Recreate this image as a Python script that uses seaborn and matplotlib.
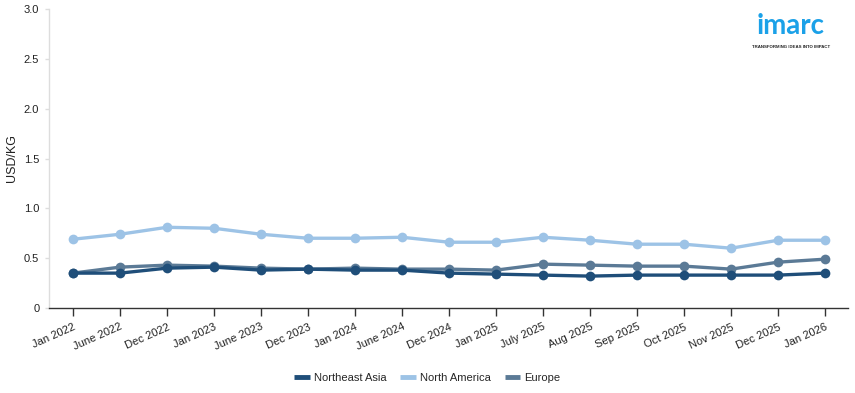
import matplotlib
matplotlib.use("Agg")
import matplotlib.pyplot as plt
import seaborn as sns
import pandas as pd
from matplotlib.lines import Line2D

dates = ["Jan 2022", "June 2022", "Dec 2022", "Jan 2023", "June 2023", "Dec 2023",
         "Jan 2024", "June 2024", "Dec 2024", "Jan 2025", "July 2025", "Aug 2025",
         "Sep 2025", "Oct 2025", "Nov 2025", "Dec 2025", "Jan 2026"]
northeast_asia = [0.35, 0.35, 0.40, 0.41, 0.38, 0.39, 0.38, 0.38, 0.35, 0.34,
                  0.33, 0.32, 0.33, 0.33, 0.33, 0.33, 0.35]
north_america = [0.69, 0.74, 0.81, 0.80, 0.74, 0.70, 0.70, 0.71, 0.66, 0.66,
                 0.71, 0.68, 0.64, 0.64, 0.60, 0.68, 0.68]
europe = [0.35, 0.41, 0.43, 0.42, 0.40, 0.39, 0.40, 0.39, 0.39, 0.38,
          0.44, 0.43, 0.42, 0.42, 0.39, 0.46, 0.49]
series_names = ["Northeast Asia", "North America", "Europe"]
colors = {"Northeast Asia": "#1f4e79", "North America": "#9dc3e6", "Europe": "#5b7a96"}

rows = []
for name, vals in zip(series_names, [northeast_asia, north_america, europe]):
    for i, (d, v) in enumerate(zip(dates, vals)):
        rows.append({"idx": i, "date": d, "value": v, "series": name})
df = pd.DataFrame(rows)

sns.set_theme(style="white")
plt.rcParams['font.family'] = ['Liberation Sans', 'DejaVu Sans']

fig = plt.figure(figsize=(8.55, 3.93), dpi=100)
ax = fig.add_axes([0.0573, 0.2163, 0.9347, 0.7607])

for name in ["North America", "Europe", "Northeast Asia"]:
    sub = df[df["series"] == name]
    sns.lineplot(data=sub, x="idx", y="value", ax=ax, color=colors[name],
                 linewidth=2.4, marker="o", markersize=7, markeredgewidth=0,
                 label=name, legend=False)

ax.set_xlim(-0.51, 16.49)
ax.set_ylim(0, 3.0)
ax.set_yticks([0, 0.5, 1.0, 1.5, 2.0, 2.5, 3.0])
ax.set_yticklabels(["0", "0.5", "1.0", "1.5", "2.0", "2.5", "3.0"], fontsize=8, color="#222222")
ax.set_xticks(range(len(dates)))
ax.set_xticklabels(dates, rotation=24, ha="right", rotation_mode="anchor", fontsize=8, color="#222222")
ax.set_xlabel("")
ax.set_ylabel("USD/KG", fontsize=9, color="#222222")
ax.tick_params(axis="x", length=6, width=1, color="#333333", bottom=True, pad=4)
ax.tick_params(axis="y", length=3, width=1, color="#dddddd", left=True, pad=4)
for s in ["top", "right"]:
    ax.spines[s].set_visible(False)
ax.spines["left"].set_color("#dddddd")
ax.spines["left"].set_linewidth(1)
ax.spines["bottom"].set_color("#333333")
ax.spines["bottom"].set_linewidth(1)
ax.grid(False)

handles = [Line2D([0], [0], color=colors[n], linewidth=3.5, solid_capstyle="butt") for n in series_names]
fig.legend(handles, series_names, loc="center", bbox_to_anchor=(0.5, 0.038), ncol=3,
           frameon=False, fontsize=8, handlelength=1.4, handletextpad=0.4, columnspacing=1.2)

fig.text(0.925, 0.935, "imarc", ha="center", va="center", fontsize=20, fontweight="bold",
         color="#1ba1e8", family=["Lato", "DejaVu Sans"])
fig.text(0.925, 0.88, "TRANSFORMING IDEAS INTO IMPACT", ha="center", va="center",
         fontsize=3.2, fontweight="bold", color="#222222")

fig.savefig("out.png", dpi=100)
